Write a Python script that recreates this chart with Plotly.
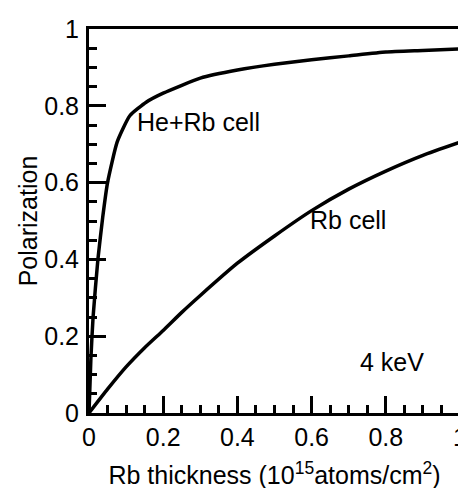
import plotly.graph_objects as go

# Data
he_rb_x = [0, 0.005, 0.011, 0.024, 0.037, 0.05, 0.076, 0.11, 0.155, 0.2, 0.3, 0.4, 0.5, 0.6, 0.7, 0.8, 0.9, 1.0]
he_rb_y = [0, 0.14, 0.25, 0.40, 0.51, 0.60, 0.706, 0.774, 0.81, 0.833, 0.872, 0.893, 0.908, 0.92, 0.93, 0.94, 0.944, 0.948]

rb_x = [0, 0.05, 0.1, 0.15, 0.2, 0.25, 0.3, 0.4, 0.5, 0.6, 0.7, 0.8, 0.9, 1.0]
rb_y = [0, 0.062, 0.12, 0.17, 0.215, 0.262, 0.306, 0.39, 0.461, 0.527, 0.583, 0.63, 0.671, 0.705]

x_ticks = [0, 0.2, 0.4, 0.6, 0.8, 1]
x_tick_labels = ["0", "0.2", "0.4", "0.6", "0.8", "1"]
y_ticks = [0, 0.2, 0.4, 0.6, 0.8, 1]
y_tick_labels = ["0", "0.2", "0.4", "0.6", "0.8", "1"]

labels = ["He+Rb cell", "Rb cell", "4 keV"]
label_x = [0.125, 0.59, 0.725]
label_y = [0.757, 0.503, 0.132]

font_family = "Liberation Sans, Arial, sans-serif"
fsize = 25

fig = go.Figure()
fig.add_trace(go.Scatter(x=he_rb_x, y=he_rb_y, mode="lines",
                         line=dict(color="black", width=3.5, shape="spline", smoothing=0.5),
                         showlegend=False))
fig.add_trace(go.Scatter(x=rb_x, y=rb_y, mode="lines",
                         line=dict(color="black", width=3.5, shape="spline", smoothing=0.5),
                         showlegend=False))

for t, xx, yy in zip(labels, label_x, label_y):
    fig.add_annotation(x=xx, y=yy, text=t, showarrow=False, xanchor="left", yanchor="middle",
                       font=dict(family=font_family, size=fsize, color="black"))

axis_common = dict(
    range=[0, 1], showgrid=False, zeroline=False,
    showline=True, linecolor="black", linewidth=3, mirror=True,
    ticks="inside", ticklen=17, tickwidth=2.5, tickcolor="black",
    tickfont=dict(family=font_family, size=fsize, color="black"),
    minor=dict(ticks="inside", ticklen=8, tickwidth=2.5, tickcolor="black", dtick=0.05),
)

fig.update_xaxes(**axis_common, tickvals=x_ticks, ticktext=x_tick_labels,
                 title=dict(text="Rb thickness (10<sup>15</sup>atoms/cm<sup>2</sup>)",
                            font=dict(family=font_family, size=fsize, color="black"), standoff=17))
fig.update_yaxes(**axis_common, tickvals=y_ticks, ticktext=y_tick_labels,
                 ticklabelstandoff=2,
                 title=dict(text="Polarization",
                            font=dict(family=font_family, size=fsize, color="black"), standoff=0))

fig.update_layout(
    width=466, height=488,
    margin=dict(l=81, r=7, t=20, b=83),
    paper_bgcolor="white", plot_bgcolor="white",
)

fig.write_html("out.html")
